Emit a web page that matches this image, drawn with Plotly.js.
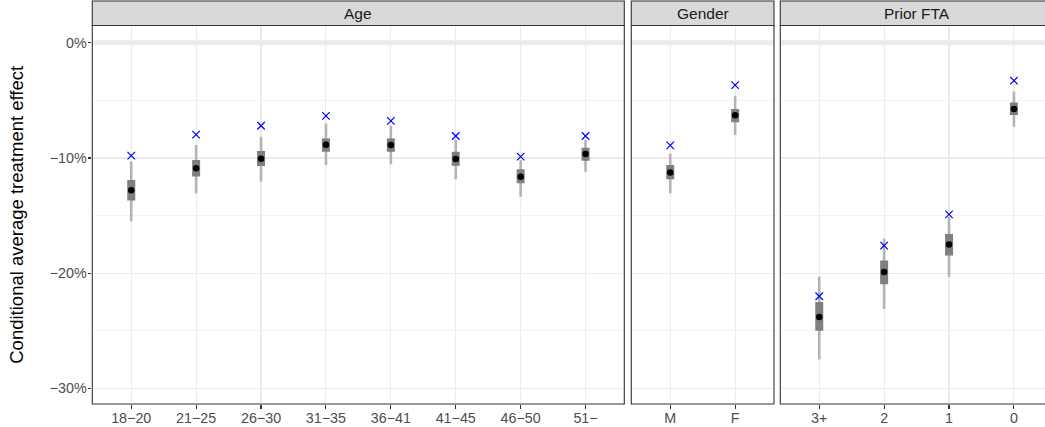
<!DOCTYPE html>
<html><head><meta charset="utf-8">
<script src="https://cdn.plot.ly/plotly-3.0.1.min.js"></script>
<style>html,body{margin:0;padding:0;background:#fff}</style>
</head><body><div id="chart" style="width:1045px;height:427px"></div>
<script>
// ---- data (percent) ----
const ageCats = ["18\u221220","21\u221225","26\u221230","31\u221235","36\u221241","41\u221245","46\u221250","51\u2212"];
const ageEst  = [-12.8,-10.9,-10.06,-8.84,-8.87,-10.09,-11.62,-9.65];
const ageAlt  = [-9.8,-7.97,-7.2,-6.35,-6.78,-8.09,-9.88,-8.09];
const ageLo95 = [-15.5,-13.07,-12.06,-10.6,-10.55,-11.85,-13.36,-11.19];
const ageHi95 = [-10.3,-8.87,-8.15,-7.0,-7.2,-8.4,-10.17,-8.43];
const ageLo50 = [-13.7,-11.6,-10.7,-9.45,-9.45,-10.67,-12.2,-10.23];
const ageHi50 = [-11.9,-10.17,-9.4,-8.3,-8.3,-9.45,-10.98,-9.1];

const genCats = ["M","F"];
const genEst  = [-11.25,-6.29];
const genAlt  = [-8.9,-3.68];
const genLo95 = [-13.07,-8.0];
const genHi95 = [-9.6,-4.6];
const genLo50 = [-11.85,-6.9];
const genHi50 = [-10.6,-5.74];

const ftaCats = ["3+","2","1","0"];
const ftaEst  = [-23.8,-19.9,-17.5,-5.74];
const ftaAlt  = [-22.0,-17.6,-14.9,-3.28];
const ftaLo95 = [-27.5,-23.1,-20.3,-7.28];
const ftaHi95 = [-20.3,-17.0,-15.1,-4.23];
const ftaLo50 = [-25.0,-20.96,-18.46,-6.26];
const ftaHi50 = [-22.5,-18.9,-16.6,-5.19];

const yTickVals = [-30,-20,-10,0];
const yTickText = ["\u221230%","\u221220%","\u221210%","0%"];
const panelTitles = ["Age","Gender","Prior FTA"];

// ---- layout geometry (pixels) ----
const W = 1045, H = 427;
const px = v => v / W, py = v => 1 - v / H;
const panels = [
  {cats: ageCats, est: ageEst, alt: ageAlt, lo95: ageLo95, hi95: ageHi95, lo50: ageLo50, hi50: ageHi50, x0: 92.3, x1: 624.3},
  {cats: genCats, est: genEst, alt: genAlt, lo95: genLo95, hi95: genHi95, lo50: genLo50, hi50: genHi50, x0: 631.3, x1: 774},
  {cats: ftaCats, est: ftaEst, alt: ftaAlt, lo95: ftaLo95, hi95: ftaHi95, lo50: ftaLo50, hi50: ftaHi50, x0: 780.3, x1: 1053}
];
const unit = 64.9;
const panelTop = 25.5, panelBot = 404, stripTop = 1;
const y0px = 42.8, yPerPct = 11.52;
const yRange = [-(panelBot - y0px) / yPerPct, (y0px - panelTop) / yPerPct];

const traces = [];
const layout = {
  width: W, height: H, margin: {l:0, r:0, t:0, b:0},
  paper_bgcolor: "#fff", plot_bgcolor: "#fff", showlegend: false,
  font: {family: "Liberation Sans, Arial, sans-serif", color: "#4d4d4d"},
  shapes: [], annotations: []
};

panels.forEach((p, i) => {
  const xa = i === 0 ? "x" : "x" + (i + 1);
  const xKey = i === 0 ? "xaxis" : "xaxis" + (i + 1);
  const domR = Math.min(p.x1, W);
  const rangeR = -0.6 + (domR - p.x0) / unit;
  layout[xKey] = {
    domain: [px(p.x0), px(domR)], anchor: "y", type: "category",
    categoryorder: "array", categoryarray: p.cats,
    range: [-0.6, rangeR], fixedrange: true,
    showgrid: true, gridcolor: "#ebebeb", gridwidth: 1.1,
    zeroline: false, showline: false,
    ticks: "outside", ticklen: 3.7, tickwidth: 1.1, tickcolor: "#333333",
    ticklabelstandoff: -3,
    tickfont: {size: 14.3, color: "#4d4d4d"}
  };
  const sx = [], sy = [], bx = [], by = [];
  p.cats.forEach((c, j) => {
    sx.push(c, c, null); sy.push(p.lo95[j], p.hi95[j], null);
    bx.push(c, c, null); by.push(p.lo50[j], p.hi50[j], null);
  });
  traces.push({type: "scatter", mode: "lines", x: sx, y: sy, xaxis: xa, yaxis: "y",
    line: {color: "#b3b3b3", width: 2.6}, hoverinfo: "skip", connectgaps: false});
  traces.push({type: "scatter", mode: "lines", x: bx, y: by, xaxis: xa, yaxis: "y",
    line: {color: "#7f7f7f", width: 8}, hoverinfo: "skip", connectgaps: false});
  traces.push({type: "scatter", mode: "markers", x: p.cats, y: p.est, xaxis: xa, yaxis: "y",
    marker: {color: "#000", size: 6.5}});
  traces.push({type: "scatter", mode: "markers", x: p.cats, y: p.alt, xaxis: xa, yaxis: "y",
    marker: {symbol: "x-thin", size: 7.5, line: {color: "#0000ff", width: 1.2}}});

  // zero reference band
  layout.shapes.push({type: "line", xref: "paper", yref: "y", x0: px(p.x0), x1: px(domR), y0: 0, y1: 0,
    line: {color: "#ebebeb", width: 5}, layer: "below"});
  // panel border
  layout.shapes.push({type: "rect", xref: "paper", yref: "paper",
    x0: px(p.x0), x1: px(p.x1), y0: py(panelBot), y1: py(panelTop),
    line: {color: "#333333", width: 1.1}, fillcolor: "rgba(0,0,0,0)", layer: "above"});
  // strip
  layout.shapes.push({type: "rect", xref: "paper", yref: "paper",
    x0: px(p.x0), x1: px(p.x1), y0: py(panelTop), y1: py(stripTop),
    line: {color: "#333333", width: 1.1}, fillcolor: "#d9d9d9", layer: "above"});
  layout.annotations.push({xref: "paper", yref: "paper", x: px((p.x0 + p.x1) / 2), y: py((stripTop + panelTop) / 2 + 0.5),
    text: panelTitles[i], showarrow: false, xanchor: "center", yanchor: "middle",
    font: {size: 15.5, color: "#1a1a1a"}});
});

layout.yaxis = {
  domain: [py(panelBot), py(panelTop)], anchor: "x", range: yRange, fixedrange: true,
  tickvals: yTickVals, ticktext: yTickText,
  showgrid: true, gridcolor: "#ebebeb", gridwidth: 1.1, zeroline: false, showline: false,
  ticks: "outside", ticklen: 3.7, tickwidth: 1.1, tickcolor: "#333333",
  ticklabelstandoff: -2,
  tickfont: {size: 14.3, color: "#4d4d4d"},
  minor: {tickvals: [-25,-15,-5], showgrid: true, gridcolor: "#efefef", gridwidth: 0.7, ticks: ""}
};
layout.annotations.push({xref: "paper", yref: "paper", x: px(17), y: py((panelTop + panelBot) / 2),
  text: "Conditional average treatment effect", textangle: -90, showarrow: false,
  xanchor: "center", yanchor: "middle", font: {size: 18.5, color: "#000"}});

Plotly.newPlot("chart", traces, layout, {staticPlot: true, displayModeBar: false});
</script></body></html>
